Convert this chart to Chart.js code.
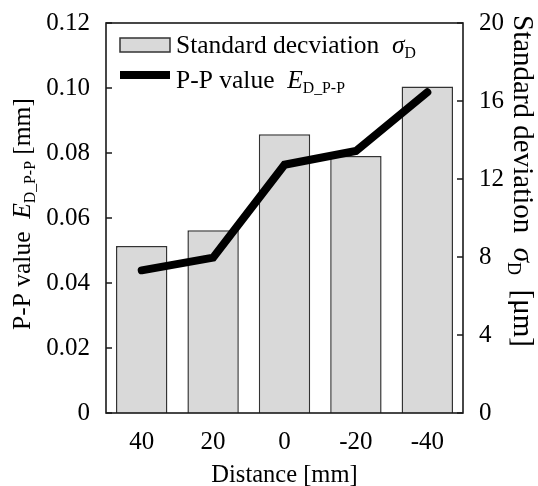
<!DOCTYPE html>
<html>
<head>
<meta charset="utf-8">
<script src="https://cdn.jsdelivr.net/npm/chart.js@4"></script>
<style>
  html, body { margin: 0; padding: 0; background: #fff; }
  #wrap { width: 538px; height: 486px; }
</style>
</head>
<body>
<div id="wrap"><canvas id="c" width="538" height="486"></canvas></div>
<script>
const categories = ['40', '20', '0', '-20', '-40'];
const stdDeviation = [8.56, 9.37, 14.29, 13.18, 16.74];   // μm, right axis
const ppValue = [0.0439, 0.0478, 0.0764, 0.0806, 0.0987]; // mm, left axis
const leftTickLabels = ['0', '0.02', '0.04', '0.06', '0.08', '0.10', '0.12'];
const rightTickLabels = ['0', '4', '8', '12', '16', '20'];

const FONT = '"Liberation Serif", "Times New Roman", serif';

function drawRich(ctx, x, y, segs, size) {
  let cx = x;
  ctx.textAlign = 'left';
  ctx.textBaseline = 'alphabetic';
  for (const s of segs) {
    const fs = s.sub ? size * 0.62 : size;
    ctx.font = (s.it ? 'italic ' : '') + fs + 'px ' + FONT;
    const dy = s.sub ? size * 0.2 : 0;
    ctx.fillText(s.t, cx, y + dy);
    cx += ctx.measureText(s.t).width;
  }
}

const decorations = {
  id: 'decorations',
  afterDraw(chart) {
    const ctx = chart.ctx;
    const a = chart.chartArea;
    ctx.save();
    // frame
    ctx.strokeStyle = '#1a1a1a';
    ctx.lineWidth = 1.6;
    ctx.strokeRect(a.left, a.top, a.right - a.left, a.bottom - a.top);
    // inward ticks
    const yl = chart.scales.y, yr = chart.scales.y1;
    ctx.beginPath();
    yl.ticks.forEach(t => {
      const p = yl.getPixelForValue(t.value);
      ctx.moveTo(a.left, p); ctx.lineTo(a.left + 6, p);
    });
    yr.ticks.forEach(t => {
      const p = yr.getPixelForValue(t.value);
      ctx.moveTo(a.right, p); ctx.lineTo(a.right - 6, p);
    });
    ctx.stroke();

    // legend
    ctx.fillStyle = '#d9d9d9';
    ctx.fillRect(120, 38, 50, 14);
    ctx.strokeStyle = '#333';
    ctx.lineWidth = 1.5;
    ctx.strokeRect(120, 38, 50, 14);
    ctx.beginPath();
    ctx.strokeStyle = '#000';
    ctx.lineWidth = 8;
    ctx.lineCap = 'butt';
    ctx.moveTo(120, 75); ctx.lineTo(170, 75);
    ctx.stroke();
    ctx.fillStyle = '#000';
    drawRich(ctx, 176, 53, [
      {t: 'Standard decviation  '}, {t: 'σ', it: true}, {t: 'D', sub: true}
    ], 25.5);
    drawRich(ctx, 176, 88, [
      {t: 'P-P value  '}, {t: 'E', it: true}, {t: 'D_P-P', sub: true}
    ], 25.5);

    // left axis title
    ctx.save();
    ctx.translate(30, 330);
    ctx.rotate(-Math.PI / 2);
    drawRich(ctx, 0, 0, [
      {t: 'P-P value  '}, {t: 'E', it: true}, {t: 'D_P-P', sub: true}, {t: ' [mm]'}
    ], 25.5);
    ctx.restore();

    // right axis title
    ctx.save();
    ctx.translate(514, 15);
    ctx.rotate(Math.PI / 2);
    drawRich(ctx, 0, 0, [
      {t: 'Standard deviation  '}, {t: 'σ', it: true}, {t: 'D', sub: true}, {t: '  [μm]'}
    ], 29);
    ctx.restore();
    ctx.restore();
  }
};

new Chart(document.getElementById('c'), {
  type: 'bar',
  data: {
    labels: categories,
    datasets: [
      {
        type: 'line',
        label: 'P-P value',
        data: ppValue,
        yAxisID: 'y',
        borderColor: '#000',
        borderWidth: 8,
        pointRadius: 0,
        tension: 0,
        borderCapStyle: 'round',
        borderJoinStyle: 'miter',
        fill: false,
        order: 0
      },
      {
        type: 'bar',
        label: 'Standard decviation',
        data: stdDeviation,
        yAxisID: 'y1',
        backgroundColor: '#d9d9d9',
        borderColor: '#333',
        borderWidth: 1.5,
        barPercentage: 0.72,
        categoryPercentage: 1.0,
        order: 1
      }
    ]
  },
  options: {
    responsive: false,
    animation: false,
    devicePixelRatio: 1,
    layout: { padding: { top: 23, left: 0, right: 0, bottom: 0 } },
    plugins: { legend: { display: false }, tooltip: { enabled: false } },
    scales: {
      x: {
        position: 'bottom',
        grid: { display: false },
        border: { display: false },
        ticks: { color: '#000', font: { family: FONT, size: 25 }, padding: 6, maxRotation: 0 },
        title: { display: true, text: 'Distance [mm]', color: '#000',
                 font: { family: FONT, size: 24.5, lineHeight: 1 }, padding: { top: 0, bottom: -2 } },
        afterFit(s) { s.height = 73; }
      },
      y: {
        position: 'left',
        min: 0, max: 0.12,
        grid: { display: false },
        border: { display: false },
        ticks: { stepSize: 0.02, color: '#000', font: { family: FONT, size: 25 }, padding: 8,
                 callback: (v, i) => leftTickLabels[i] },
        afterFit(s) { s.width = 106; }
      },
      y1: {
        position: 'right',
        min: 0, max: 20,
        grid: { display: false },
        border: { display: false },
        ticks: { stepSize: 4, color: '#000', font: { family: FONT, size: 25 }, padding: 8,
                 callback: (v, i) => rightTickLabels[i] },
        afterFit(s) { s.width = 75; }
      }
    }
  },
  plugins: [decorations]
});
</script>
</body>
</html>
